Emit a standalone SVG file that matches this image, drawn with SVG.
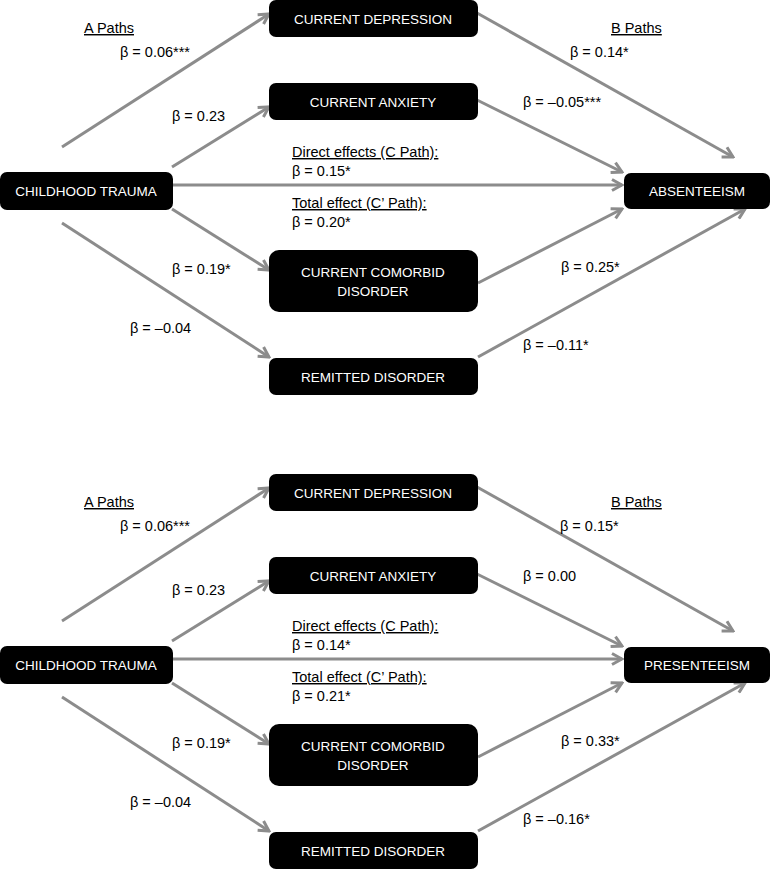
<svg xmlns="http://www.w3.org/2000/svg" width="770" height="869" viewBox="0 0 770 869">
<style>
.box{fill:#000}
.nt{fill:#fff;font-family:"Liberation Sans",Arial,sans-serif;font-size:13.5px;text-anchor:middle}
.lb{fill:#000;font-family:"Liberation Sans",Arial,sans-serif;font-size:14.5px}
.u{text-decoration:underline}
.ar{stroke:#8c8c8c;stroke-width:3;fill:none;marker-end:url(#ah)}
</style>
<defs>
<marker id="ah" viewBox="0 0 14 14" markerWidth="14" markerHeight="14" refX="12" refY="7" orient="auto" markerUnits="userSpaceOnUse">
<path d="M2,1.5 L12,7 L2,12.5" fill="none" stroke="#8c8c8c" stroke-width="3"/>
</marker>
</defs>
<rect width="770" height="869" fill="#fff"/>
<g id="connectors">
<path class="ar" d="M62,147 L269,14"/>
<path class="ar" d="M172,167 L269,107"/>
<path class="ar" d="M172,209 L269,270"/>
<path class="ar" d="M62,223 L269,357"/>
<path class="ar" d="M172,185 L622,185"/>
<path class="ar" d="M477,13 L733,157"/>
<path class="ar" d="M477,100 L622,172"/>
<path class="ar" d="M478,283 L622,209"/>
<path class="ar" d="M478,357 L745,209"/>
<path class="ar" d="M62,621 L269,488"/>
<path class="ar" d="M172,641 L269,581"/>
<path class="ar" d="M172,683 L269,744"/>
<path class="ar" d="M62,697 L269,831"/>
<path class="ar" d="M172,659 L622,659"/>
<path class="ar" d="M477,487 L733,631"/>
<path class="ar" d="M477,574 L622,646"/>
<path class="ar" d="M478,757 L622,683"/>
<path class="ar" d="M478,831 L745,683"/>
</g>
<g id="trauma1"><rect class="box" x="0" y="172" width="173" height="38" rx="7"/><text class="nt" x="86" y="196">CHILDHOOD TRAUMA</text></g>
<g id="depression1"><rect class="box" x="269" y="0" width="209" height="37" rx="7"/><text class="nt" x="373" y="24">CURRENT DEPRESSION</text></g>
<g id="anxiety1"><rect class="box" x="269" y="83" width="209" height="37" rx="7"/><text class="nt" x="373" y="107">CURRENT ANXIETY</text></g>
<g id="comorbid1"><rect class="box" x="269" y="250" width="209" height="62" rx="10"/><text class="nt" x="373" y="277">CURRENT COMORBID</text><text class="nt" x="373" y="296">DISORDER</text></g>
<g id="remitted1"><rect class="box" x="269" y="358" width="209" height="37" rx="7"/><text class="nt" x="373" y="382">REMITTED DISORDER</text></g>
<g id="absenteeism"><rect class="box" x="624" y="173" width="146" height="36" rx="7"/><text class="nt" x="697" y="196">ABSENTEEISM</text></g>
<g id="labels1">
<text class="lb u" x="84" y="33">A Paths</text>
<text class="lb" x="120" y="57">β = 0.06***</text>
<text class="lb" x="172" y="121">β = 0.23</text>
<text class="lb u" x="292" y="157">Direct effects (C Path):</text>
<text class="lb" x="292" y="176">β = 0.15*</text>
<text class="lb u" x="292" y="208">Total effect (C’ Path):</text>
<text class="lb" x="292" y="227">β = 0.20*</text>
<text class="lb" x="172" y="274">β = 0.19*</text>
<text class="lb" x="130" y="333">β = –0.04</text>
<text class="lb u" x="611" y="33">B Paths</text>
<text class="lb" x="570" y="57">β = 0.14*</text>
<text class="lb" x="523" y="107">β = –0.05***</text>
<text class="lb" x="561" y="272">β = 0.25*</text>
<text class="lb" x="523" y="350">β = –0.11*</text>
</g>
<g id="trauma2"><rect class="box" x="0" y="646" width="173" height="38" rx="7"/><text class="nt" x="86" y="670">CHILDHOOD TRAUMA</text></g>
<g id="depression2"><rect class="box" x="269" y="474" width="209" height="37" rx="7"/><text class="nt" x="373" y="498">CURRENT DEPRESSION</text></g>
<g id="anxiety2"><rect class="box" x="269" y="557" width="209" height="37" rx="7"/><text class="nt" x="373" y="581">CURRENT ANXIETY</text></g>
<g id="comorbid2"><rect class="box" x="269" y="724" width="209" height="62" rx="10"/><text class="nt" x="373" y="751">CURRENT COMORBID</text><text class="nt" x="373" y="770">DISORDER</text></g>
<g id="remitted2"><rect class="box" x="269" y="832" width="209" height="37" rx="7"/><text class="nt" x="373" y="856">REMITTED DISORDER</text></g>
<g id="presenteeism"><rect class="box" x="624" y="647" width="146" height="36" rx="7"/><text class="nt" x="697" y="670">PRESENTEEISM</text></g>
<g id="labels2">
<text class="lb u" x="84" y="507">A Paths</text>
<text class="lb" x="120" y="531">β = 0.06***</text>
<text class="lb" x="172" y="595">β = 0.23</text>
<text class="lb u" x="292" y="631">Direct effects (C Path):</text>
<text class="lb" x="292" y="650">β = 0.14*</text>
<text class="lb u" x="292" y="682">Total effect (C’ Path):</text>
<text class="lb" x="292" y="701">β = 0.21*</text>
<text class="lb" x="172" y="748">β = 0.19*</text>
<text class="lb" x="130" y="807">β = –0.04</text>
<text class="lb u" x="611" y="507">B Paths</text>
<text class="lb" x="560" y="531">β = 0.15*</text>
<text class="lb" x="523" y="581">β = 0.00</text>
<text class="lb" x="561" y="746">β = 0.33*</text>
<text class="lb" x="523" y="824">β = –0.16*</text>
</g>
</svg>
